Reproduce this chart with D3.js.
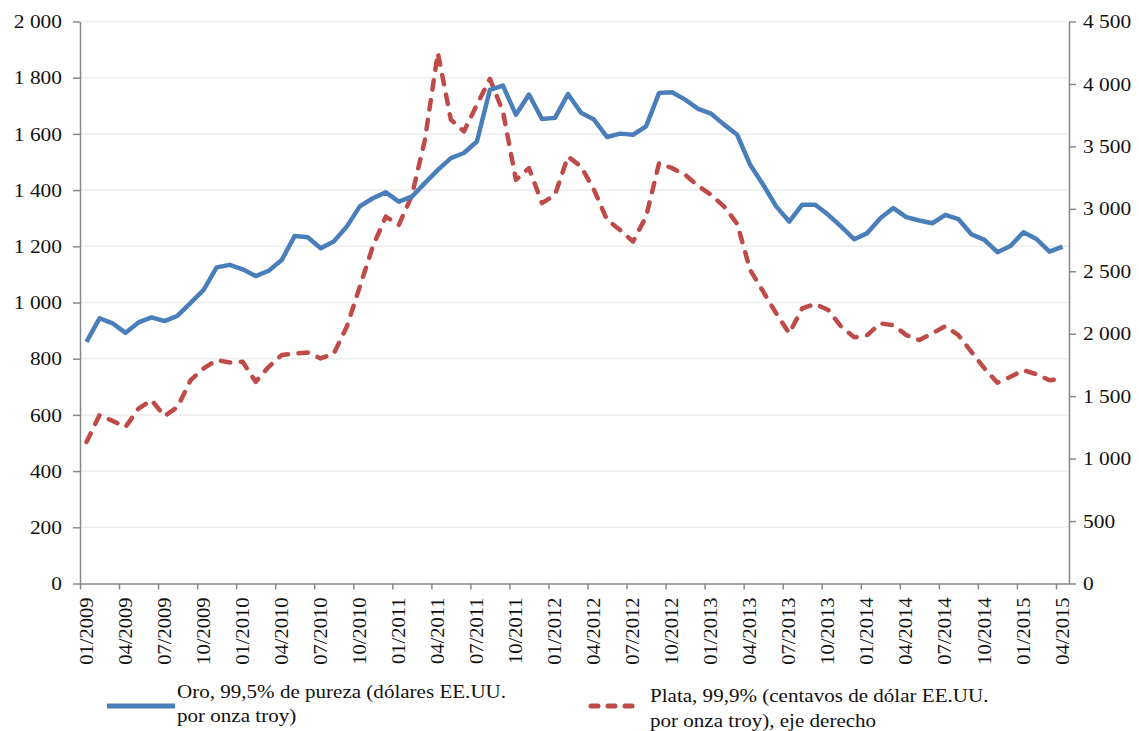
<!DOCTYPE html>
<html><head><meta charset="utf-8">
<script src="https://cdn.jsdelivr.net/npm/d3@7"></script>
<style>
body{margin:0;background:#fff}
</style>
</head><body>
<svg id="c" width="1139" height="731"></svg>
<script>
const months = [
"01/2009","02/2009","03/2009","04/2009","05/2009","06/2009","07/2009","08/2009","09/2009","10/2009","11/2009","12/2009",
"01/2010","02/2010","03/2010","04/2010","05/2010","06/2010","07/2010","08/2010","09/2010","10/2010","11/2010","12/2010",
"01/2011","02/2011","03/2011","04/2011","05/2011","06/2011","07/2011","08/2011","09/2011","10/2011","11/2011","12/2011",
"01/2012","02/2012","03/2012","04/2012","05/2012","06/2012","07/2012","08/2012","09/2012","10/2012","11/2012","12/2012",
"01/2013","02/2013","03/2013","04/2013","05/2013","06/2013","07/2013","08/2013","09/2013","10/2013","11/2013","12/2013",
"01/2014","02/2014","03/2014","04/2014","05/2014","06/2014","07/2014","08/2014","09/2014","10/2014","11/2014","12/2014",
"01/2015","02/2015","03/2015","04/2015"];

// Oro, dólares EE.UU. por onza troy (eje izquierdo)
const gold = [
860,944,926,892,929,947,934,953,999,1045,1125,1134,
1118,1094,1113,1151,1237,1232,1193,1217,1270,1342,1371,1392,
1359,1377,1425,1472,1514,1532,1573,1757,1772,1668,1740,1653,
1657,1742,1675,1651,1589,1601,1597,1627,1746,1748,1722,1689,
1672,1633,1597,1490,1419,1342,1288,1348,1348,1312,1270,1225,
1247,1300,1336,1304,1292,1282,1312,1297,1243,1223,1179,1201,
1250,1226,1181,1199];

// Plata, centavos de dólar por onza troy (eje derecho)
const silver = [
1133,1348,1302,1254,1401,1468,1340,1414,1628,1722,1789,1770,
1775,1615,1735,1829,1842,1850,1802,1840,2056,2377,2698,2938,
2871,3105,3550,4250,3714,3620,3834,4040,3780,3232,3326,3046,
3112,3419,3339,3152,2912,2831,2738,2938,3366,3326,3273,3184,
3112,3018,2880,2511,2337,2163,2003,2203,2238,2190,2056,1971,
1989,2083,2069,1989,1949,2003,2061,1989,1855,1722,1607,1655,
1708,1676,1628,1636];

const leftTicks = [0,200,400,600,800,1000,1200,1400,1600,1800,2000];
const rightTicks = [0,500,1000,1500,2000,2500,3000,3500,4000,4500];
const xTickLabels = ["01/2009","04/2009","07/2009","10/2009","01/2010","04/2010","07/2010","10/2010",
"01/2011","04/2011","07/2011","10/2011","01/2012","04/2012","07/2012","10/2012",
"01/2013","04/2013","07/2013","10/2013","01/2014","04/2014","07/2014","10/2014","01/2015","04/2015"];
const legendGold = ["Oro, 99,5% de pureza (dólares EE.UU.","por onza troy)"];
const legendSilver = ["Plata, 99,9% (centavos de dólar EE.UU.","por onza troy), eje derecho"];

const FONT = "'Liberation Serif', 'Times New Roman', serif";
const goldColor = "#4a7ebb", silverColor = "#be4b48", axisColor = "#888888", gridColor = "#ededed";
const svg = d3.select("#c").style("font-family", FONT);
const L = 80, R = 1069, B = 583.5, T = 21.5;
const x = d3.scaleBand().domain(months).range([L, R]);
const xi = d3.scaleLinear().domain([0, months.length]).range([L, R]);
const yL = d3.scaleLinear().domain([0, 2000]).range([B, T]);
const yR = d3.scaleLinear().domain([0, 4500]).range([B, T]);
const fmt = v => d3.format(",")(v).replace(/,/g, "\u00a0");

function styleText(sel) {
  return sel.attr("font-family", FONT).style("font-family", FONT).style("font-size", "18px").attr("fill", "#111");
}

// gridlines
svg.append("g").selectAll("line").data(leftTicks.filter(d => d > 0)).join("line")
  .attr("x1", L).attr("x2", R).attr("y1", d => yL(d)).attr("y2", d => yL(d))
  .attr("stroke", gridColor).attr("stroke-width", 1.5);

// left axis
const gl = svg.append("g").attr("transform", `translate(${L},0)`)
  .call(d3.axisLeft(yL).tickValues(leftTicks).tickSize(7).tickSizeOuter(0).tickFormat(fmt));
gl.attr("font-family", FONT);
gl.selectAll("path,line").attr("stroke", axisColor).attr("stroke-width", 1.5);
styleText(gl.selectAll("text").attr("x", -18 / 1.19).attr("dy", "0.34em").attr("transform", "scale(1.19,1)"));

// right axis
const gr = svg.append("g").attr("transform", `translate(${R},0)`)
  .call(d3.axisRight(yR).tickValues(rightTicks).tickSize(7).tickSizeOuter(0).tickFormat(fmt));
gr.attr("font-family", FONT);
gr.selectAll("path,line").attr("stroke", axisColor).attr("stroke-width", 1.5);
styleText(gr.selectAll("text").attr("x", 14 / 1.19).attr("dy", "0.34em").attr("transform", "scale(1.19,1)"));

// bottom axis (ticks at category boundaries every 3 months)
const tickIdx = xTickLabels.map(m => months.indexOf(m));
const gb = svg.append("g").attr("transform", `translate(0,${B})`)
  .call(d3.axisBottom(xi).tickValues(tickIdx).tickSize(6).tickSizeOuter(0).tickFormat(""));
gb.selectAll("path,line").attr("stroke", axisColor).attr("stroke-width", 1.5);
styleText(svg.append("g").selectAll("g").data(xTickLabels).join("g")
  .attr("transform", d => `translate(${x(d) + x.bandwidth() / 2},${B + 14}) rotate(-90) scale(1.14,1)`)
  .append("text").attr("text-anchor", "end").attr("dy", "0.34em").text(d => d));

// lines
const idx = d3.range(months.length);
const lineL = d3.line().x(i => x(months[i]) + x.bandwidth() / 2).y(i => yL(gold[i]));
const lineR = d3.line().x(i => x(months[i]) + x.bandwidth() / 2).y(i => yR(silver[i]));
svg.append("path").attr("d", lineR(idx)).attr("fill", "none").attr("stroke", silverColor)
  .attr("stroke-width", 4.5).attr("stroke-dasharray", "9.5,10.5").attr("stroke-linecap", "round").attr("stroke-linejoin", "round");
svg.append("path").attr("d", lineL(idx)).attr("fill", "none").attr("stroke", goldColor)
  .attr("stroke-width", 4.5).attr("stroke-linejoin", "round");

// legend
svg.append("line").attr("x1", 107).attr("x2", 175).attr("y1", 706).attr("y2", 706)
  .attr("stroke", goldColor).attr("stroke-width", 5);
svg.append("line").attr("x1", 588).attr("x2", 634).attr("y1", 706).attr("y2", 706)
  .attr("stroke", silverColor).attr("stroke-width", 5).attr("stroke-dasharray", "7,10").attr("stroke-dashoffset", -3).attr("stroke-linecap", "round");
const lg = svg.append("g").attr("transform", "translate(177,0) scale(1.17,1)");
styleText(lg.selectAll("text").data(legendGold).join("text").attr("x", 0).attr("y", (d, i) => 698 + i * 24).text(d => d));
const ls = svg.append("g").attr("transform", "translate(650,0) scale(1.17,1)");
styleText(ls.selectAll("text").data(legendSilver).join("text").attr("x", 0).attr("y", (d, i) => 702 + i * 25).text(d => d));
</script>
</body></html>
